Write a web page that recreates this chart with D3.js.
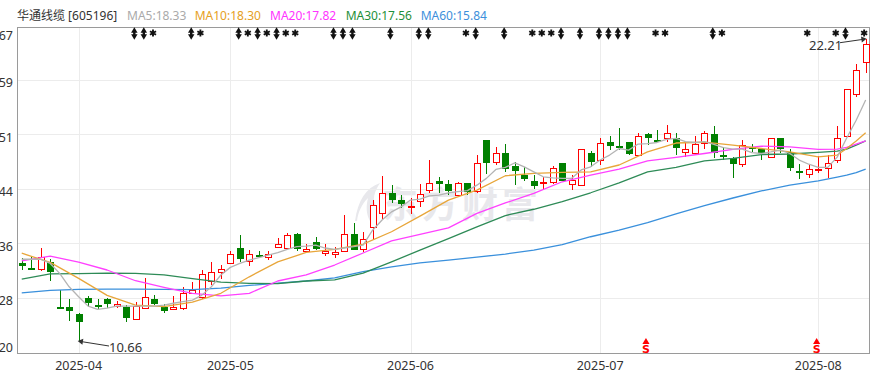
<!DOCTYPE html>
<html lang="zh">
<head>
<meta charset="utf-8">
<style>
html,body{margin:0;padding:0;background:#fff;overflow:hidden}
svg{display:block;font-family:"Noto Sans","Noto Sans CJK SC",sans-serif}
</style>
<script src="https://cdn.jsdelivr.net/npm/d3@7/dist/d3.min.js"></script>
</head>
<body>
<div id="chart"></div>
<script>
const title = "华通线缆 [605196]";
const legendLabels = ["MA5:18.33","MA10:18.30","MA20:17.82","MA30:17.56","MA60:15.84"];
const yTickValues = [22.67,20.59,18.51,16.44,14.36,12.28,10.20];
const yTickLabels = ["67","59","51","44","36","28","20"];
const xTickIndex = [6,22,41,61,84];
const xTickLabels = ["2025-04","2025-05","2025-06","2025-07","2025-08"];

const opens = [13.62,13.46,13.41,13.66,11.96,11.94,11.68,12.30,12.03,12.26,11.98,11.94,11.52,11.91,12.26,11.94,11.91,11.89,12.50,12.33,12.95,13.28,13.62,14.20,13.70,13.93,13.85,14.23,14.19,14.74,14.07,14.43,14.00,14.00,14.07,14.74,14.16,15.00,15.53,16.31,16.04,15.80,15.98,16.40,16.77,16.64,16.24,16.68,16.36,18.33,17.48,17.83,17.34,16.99,16.77,16.71,16.74,17.46,16.64,16.64,17.82,17.58,18.24,18.12,18.24,17.75,18.55,18.35,18.43,18.42,17.88,17.85,18.24,18.55,17.76,17.63,17.44,18.06,17.98,17.67,18.40,17.86,17.14,17.02,17.20,17.24,17.59,18.46,20.06,21.33];
const closes = [13.53,13.44,13.88,13.30,11.94,11.81,11.43,12.16,12.02,12.12,12.06,11.55,12.01,12.33,12.12,11.81,11.97,12.48,12.60,13.20,13.28,13.39,13.97,13.81,13.97,13.88,13.97,14.36,14.69,14.19,14.16,14.21,14.09,14.06,14.73,14.18,14.54,15.84,16.30,16.09,15.94,15.83,16.26,16.68,16.68,16.42,16.68,16.37,17.44,17.50,17.82,17.25,17.19,16.89,16.62,16.75,17.27,16.80,16.80,18.01,17.53,18.23,18.11,18.10,17.81,18.49,18.42,18.33,18.61,18.07,17.98,18.20,18.61,17.85,17.75,17.43,18.15,18.02,17.85,18.40,18.01,17.27,17.13,17.21,17.24,17.44,18.43,20.27,20.99,22.02];
const highs = [13.81,13.88,14.20,13.78,12.60,12.25,11.72,12.39,12.25,12.31,12.20,12.03,12.15,13.07,12.40,12.07,12.38,12.71,12.92,13.37,13.66,13.56,14.09,14.70,14.13,14.10,14.10,14.58,14.78,14.77,14.36,14.62,14.36,14.23,15.47,15.15,14.83,16.04,16.96,16.61,16.23,16.12,16.65,17.57,16.93,16.80,16.72,16.70,17.76,18.33,18.05,18.20,17.48,17.31,16.99,16.93,17.34,17.46,16.99,18.01,17.91,18.40,18.48,18.78,18.24,18.61,18.59,18.71,18.89,18.61,18.24,18.48,18.67,18.86,18.05,17.69,18.33,18.20,18.04,18.43,18.40,18.01,17.40,17.40,17.72,17.76,18.86,20.27,21.23,22.21];
const lows = [13.37,13.43,13.34,12.96,11.93,11.43,10.66,11.97,11.87,11.91,11.91,11.39,11.52,11.91,12.03,11.72,11.91,11.84,12.48,12.25,12.80,13.01,13.62,13.66,13.53,13.81,13.75,14.23,14.18,14.10,14.07,14.13,13.90,13.83,14.07,14.16,14.07,14.51,15.28,15.94,15.72,15.51,15.76,16.30,16.30,16.23,16.22,16.22,16.30,17.03,17.38,17.12,16.61,16.78,16.45,16.42,16.64,16.77,16.42,16.64,17.31,17.38,17.95,17.95,17.76,17.73,18.14,18.27,18.27,17.76,17.67,17.76,18.01,17.63,17.57,16.87,17.29,17.88,17.57,17.67,17.82,17.16,16.84,16.90,17.07,16.88,17.45,18.46,19.96,20.90];

const ma5 = [13.78,13.78,13.78,13.62,13.24,12.73,12.35,11.99,11.87,11.91,11.99,11.99,11.99,11.99,11.99,12.03,12.10,12.16,12.22,12.41,12.73,13.18,13.47,13.62,13.75,13.84,13.94,14.03,14.16,14.26,14.28,14.32,14.21,14.16,14.21,14.26,14.32,14.89,15.28,15.59,15.78,16.04,16.08,16.20,16.23,16.32,16.36,16.40,16.61,16.87,17.21,17.29,17.46,17.31,17.12,16.93,16.89,16.87,16.87,17.19,17.31,17.57,17.76,18.01,17.95,18.18,18.20,18.24,18.36,18.40,18.27,18.24,18.27,18.17,18.04,17.99,17.99,17.85,17.82,17.88,17.95,17.82,17.57,17.41,17.29,17.29,17.68,18.41,19.09,19.86];

// slower averages at these candle positions
const maKnots = [0,3,6,9,12,15,18,21,24,27,30,33,36,39,42,45,48,51,54,57,60,63,66,69,72,75,78,81,84,86,87,88,89];
const ma10 = [14.01,13.66,13.05,12.40,12.03,11.97,12.14,12.48,13.11,13.68,14.04,14.16,14.36,14.83,15.43,16.04,16.42,16.97,17.06,17.10,17.12,17.38,17.88,18.22,18.25,18.14,18.01,17.88,17.69,17.76,18.01,18.30,18.61];
const ma20 = [13.72,13.90,13.67,13.37,12.96,12.71,12.48,12.38,12.48,12.95,13.18,13.56,14.02,14.48,14.73,14.98,15.53,15.93,16.30,16.74,16.99,17.22,17.54,17.67,17.82,17.98,18.10,18.07,17.98,17.99,18.05,18.18,18.30];
const ma30 = [13.02,13.22,13.23,13.25,13.24,13.18,13.04,12.91,12.86,12.85,12.95,12.99,13.25,13.68,14.13,14.57,15.02,15.45,15.69,15.98,16.32,16.70,17.12,17.29,17.54,17.63,17.78,17.80,17.86,17.91,17.99,18.14,18.30];
const ma60 = [12.50,12.59,12.63,12.64,12.64,12.63,12.62,12.68,12.78,12.87,12.95,13.07,13.31,13.49,13.64,13.75,13.86,13.98,14.13,14.34,14.64,14.89,15.18,15.51,15.83,16.12,16.39,16.61,16.77,16.92,16.99,17.09,17.22];

const upDownMarks = [12,13,18,23,25,27,33,34,35,39,42,43,48,51,57,59,61,62,63,64,73,87];
const starMarks = [14,19,24,26,28,29,47,54,55,56,67,68,74,83,86,89];
const sMarks = [66,84];
const lowIndex = 6, lowLabel = "10.66";
const highIndex = 89, highLabel = "22.21";

const W = 879, H = 376;
const plot = {l:17, r:870.4, t:27, b:353};
const count = opens.length;
const catIdx = d3.range(count);
const x = d3.scaleBand().domain(catIdx).range([plot.l, plot.r]);
const cx = i => x(i) + x.bandwidth()/2;
const y = d3.scaleLinear().domain([10.20, 22.67]).range([plot.b, 26.5]);
const px = v => Math.round(v) + 0.5;

const RED = "#ff0000", GREEN = "#008000";
const svg = d3.select("#chart").append("svg").attr("width", W).attr("height", H);

// watermark
const wm = svg.append("g");
wm.append("path")
  .attr("d", "M355 221 C358 200 366 188 380 183 C374 192 372 200 376 206 L370 221 C366 214 366 206 368 198 C362 204 358 212 357 221 Z")
  .attr("fill", "#e8e8ec");
wm.append("text").attr("x", 382).attr("y", 218)
  .attr("font-family", '"Noto Sans CJK SC",sans-serif').attr("font-weight", 700)
  .attr("font-size", 36).attr("letter-spacing", 4).attr("fill", "#e8e8ec").text("东方财富");

// grid
const grid = svg.append("g").attr("stroke", "#ececec").attr("stroke-width", 1);
grid.selectAll(".h").data(yTickValues.slice(1, -1)).join("line")
  .attr("x1", plot.l).attr("x2", 870).attr("y1", d => px(y(d)) - 1).attr("y2", d => px(y(d)) - 1);
grid.selectAll(".v").data(xTickIndex).join("line")
  .attr("y1", plot.t).attr("y2", plot.b).attr("x1", d => px(cx(d))).attr("x2", d => px(cx(d)));

// frame
svg.append("rect").attr("x", 17.5).attr("y", 27.5).attr("width", 852).attr("height", 326)
  .attr("fill", "none").attr("stroke", "#9a9a9a").attr("stroke-width", 1);

// candles
const candles = svg.append("g").attr("shape-rendering", "crispEdges");
const isUp = i => closes[i] >= opens[i];
candles.selectAll(".wick").data(catIdx).join("line")
  .attr("x1", i => px(cx(i)) ).attr("x2", i => px(cx(i)))
  .attr("y1", i => y(highs[i])).attr("y2", i => y(lows[i]))
  .attr("stroke", i => isUp(i) ? RED : GREEN).attr("stroke-width", 1);
candles.selectAll(".body").data(catIdx).join("rect")
  .attr("x", i => px(cx(i)) - 3)
  .attr("width", 6)
  .attr("y", i => Math.round(y(Math.max(opens[i], closes[i]))) + 0.5)
  .attr("height", i => Math.max(1, Math.round(Math.abs(y(opens[i]) - y(closes[i])))))
  .attr("fill", i => isUp(i) ? "#fff" : GREEN)
  .attr("stroke", i => isUp(i) ? RED : GREEN)
  .attr("stroke-width", 1);

// moving averages
const maLine = d3.line().curve(d3.curveLinear);
const maSeries = [
  {vals: ma60, idx: maKnots, c: "#3a90dc"},
  {vals: ma30, idx: maKnots, c: "#2e8b57"},
  {vals: ma20, idx: maKnots, c: "#ff40ff"},
  {vals: ma10, idx: maKnots, c: "#e8a63a"},
  {vals: ma5,  idx: catIdx,  c: "#b4b4b4"}
];
svg.append("g").selectAll("path").data(maSeries).join("path")
  .attr("d", s => maLine(s.vals.map((v, k) => [cx(s.idx[k]), y(v)])))
  .attr("fill", "none").attr("stroke", s => s.c).attr("stroke-width", 1.3).attr("stroke-linejoin", "round");

// top marks
const marks = svg.append("g").attr("fill", "#111");
const tri = d3.symbol().type(d3.symbolTriangle).size(18)();
const ud = marks.selectAll(".ud").data(upDownMarks).join("g")
  .attr("transform", i => `translate(${cx(i) - 1.2},33.5)`);
ud.append("path").attr("d", tri).attr("transform", "translate(0,-2.5)");
ud.append("path").attr("d", tri).attr("transform", "translate(0,2.5) rotate(180)");
ud.append("rect").attr("x", -1.2).attr("y", -3).attr("width", 2.4).attr("height", 6);
marks.selectAll(".st").data(starMarks).join("path")
  .attr("d", d3.symbol().type(d3.symbolAsterisk).size(34)())
  .attr("fill", "none").attr("stroke", "#111").attr("stroke-width", 1.9)
  .attr("transform", i => `translate(${cx(i) - 1.5},33)`);

// S marks
const sm = svg.append("g").attr("fill", RED);
sm.selectAll("path").data(sMarks).join("path")
  .attr("d", d3.symbol().type(d3.symbolTriangle).size(22)())
  .attr("transform", i => `translate(${cx(i) - 1.6},342)`);
sm.selectAll("text").data(sMarks).join("text")
  .attr("x", i => cx(i) - 1.6).attr("y", 352.5)
  .attr("text-anchor", "middle").attr("font-size", 11).attr("font-weight", 700)
  .attr("font-family", '"DejaVu Sans",sans-serif').text("S");

// annotations
const ann = svg.append("g").attr("fill", "#333").attr("font-size", 13);
function arrow(x1, y1, x2, y2) {
  const a = Math.atan2(y2 - y1, x2 - x1) * 180 / Math.PI;
  ann.append("line").attr("x1", x1).attr("y1", y1).attr("x2", x2).attr("y2", y2)
    .attr("stroke", "#333").attr("stroke-width", 1);
  ann.append("path").attr("d", d3.symbol().type(d3.symbolTriangle).size(16)())
    .attr("transform", `translate(${x2},${y2}) rotate(${a + 90})`).attr("fill", "#333");
}
arrow(109, 346, cx(lowIndex) + 2.5, y(10.66) + 0.6);
ann.append("text").attr("x", 109).attr("y", 351.5).text(lowLabel);
arrow(840, 42.7, cx(highIndex) - 2.5, y(22.21) + 0.8);
ann.append("text").attr("x", 809).attr("y", 50).text(highLabel);

// axes text
const axisT = svg.append("g").attr("fill", "#333").attr("font-size", 12.5);
axisT.selectAll(".yl").data(yTickValues).join("text")
  .attr("x", 13).attr("text-anchor", "end")
  .attr("y", (d, k) => k === 0 ? 39.5 : k === yTickValues.length - 1 ? 351.5 : y(d) + 6.5)
  .text((d, k) => yTickLabels[k]);
axisT.selectAll(".xl").data(xTickIndex).join("text")
  .attr("x", d => cx(d)).attr("y", 370).attr("text-anchor", "middle")
  .text((d, k) => xTickLabels[k]);

// header
const head = svg.append("g").attr("font-size", 12);
head.append("text").attr("x", 17).attr("y", 20).attr("fill", "#333").text(title);
const legendX = [127, 194.7, 270, 345.7, 420.7];
const legendC = ["#aaaaaa", "#e6a023", "#ff33ff", "#1f8f3a", "#3d8fdb"];
head.selectAll(".lg").data(legendLabels).join("text")
  .attr("x", (d, k) => legendX[k]).attr("y", 20)
  .attr("fill", (d, k) => legendC[k]).text(d => d);
</script>
</body>
</html>
